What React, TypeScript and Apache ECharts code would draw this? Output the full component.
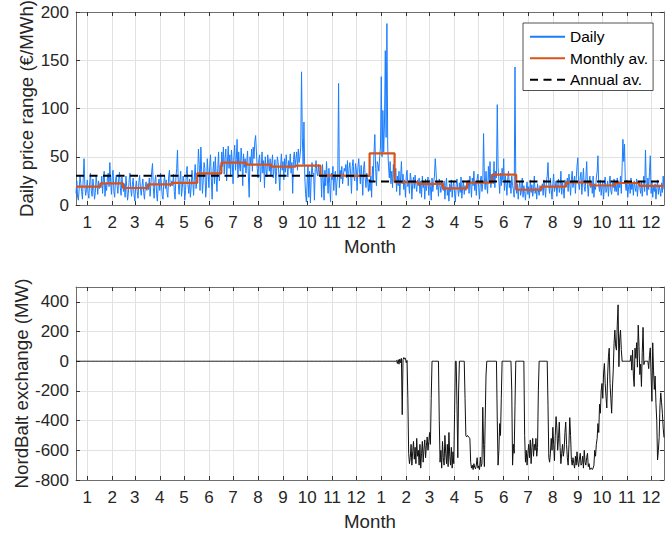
import React, { useEffect, useRef } from 'react';
import * as echarts from 'echarts';

const FONT = '"Liberation Sans", Arial, Helvetica, sans-serif';
const TEXT = '#262626';

const monthLabels = ['1', '2', '3', '4', '5', '6', '7', '8', '9', '10', '11', '12'];
const years = [2015, 2016];
const daysInMonth2015 = [31, 28, 31, 30, 31, 30, 31, 31, 30, 31, 30, 31];
const daysInMonth2016 = [31, 29, 31, 30, 31, 30, 31, 31, 30, 31, 30, 31];

// Daily price range (€/MWh), one row per month
const priceDaily2015 = [
  12, 25, 8, 5, 18, 30, 22, 14, 6, 28, 48, 20, 10, 16, 26, 12, 7, 24, 33, 15, 9, 27, 18, 6, 13, 30, 22, 11, 25, 17, 20,
  18, 30, 12, 26, 35, 9, 22, 15, 28, 33, 19, 44, 24, 11, 30, 36, 14, 8, 25, 31, 20, 12, 27, 34, 18, 10, 29, 21,
  14, 22, 8, 30, 19, 5, 12, 26, 33, 16, 9, 21, 28, 11, 4, 18, 25, 14, 7, 23, 31, 17, 10, 20, 27, 13, 6, 19, 24, 15, 22,
  16, 28, 9, 22, 35, 43, 18, 7, 25, 31, 12, 4, 20, 27, 15, 33, 22, 10, 6, 24, 30, 17, 26, 13, 8, 29, 36, 19, 21, 25,
  20, 32, 14, 6, 28, 38, 57, 22, 11, 26, 35, 9, 18, 30, 24, 5, 15, 33, 40, 21, 12, 27, 8, 19, 36, 25, 10, 29, 42, 17, 23,
  30, 58, 42, 15, 60, 35, 12, 26, 44, 38, 8, 20, 48, 33, 18, 40, 52, 27, 6, 35, 45, 22, 50, 30, 14, 38, 55, 25, 41, 36,
  55, 40, 60, 32, 48, 58, 25, 45, 61, 38, 52, 30, 57, 44, 22, 50, 62, 36, 47, 68, 28, 55, 41, 35, 59, 46, 20, 53, 39, 48, 33,
  45, 56, 30, 8, 50, 42, 58, 35, 60, 48, 66, 72, 55, 38, 28, 47, 52, 24, 40, 55, 33, 46, 18, 50, 37, 29, 52, 44, 35, 48, 30,
  42, 52, 28, 38, 47, 22, 35, 50, 44, 30, 15, 40, 53, 36, 45, 26, 48, 34, 52, 41, 29, 46, 38, 53, 33, 44, 12, 47, 55, 40,
  48, 55, 36, 58, 44, 50, 60, 138, 70, 42, 86, 30, 12, 3, 25, 40, 8, 35, 2, 28, 44, 32, 33, 5, 38, 46, 34, 30, 42, 30, 35,
  30, 8, 42, 25, 5, 36, 20, 45, 28, 12, 38, 22, 3, 33, 26, 40, 15, 29, 35, 10, 24, 32, 126, 18, 36, 27, 40, 22, 31, 38,
  35, 42, 28, 46, 20, 38, 44, 32, 12, 40, 47, 30, 25, 43, 36, 15, 39, 48, 34, 22, 41, 30, 10, 37, 45, 28, 18, 33, 26, 14, 24,
];
const priceDaily2016 = [
  15, 30, 8, 40, 25, 55, 73, 38, 20, 45, 42, 35, 50, 60, 133, 50, 98, 55, 85, 160, 70, 188, 60, 40, 28, 45, 22, 35, 18, 42, 30,
  25, 38, 14, 30, 20, 35, 10, 28, 45, 22, 32, 16, 26, 8, 30, 36, 19, 24, 12, 33, 27, 6, 22, 29, 17, 31, 20, 14, 26,
  20, 28, 12, 25, 8, 30, 18, 24, 6, 27, 15, 22, 29, 10, 26, 19, 5, 28, 14, 23, 30, 48, 35, 16, 25, 9, 27, 20, 13, 24, 18,
  15, 25, 6, 20, 28, 10, 18, 4, 22, 14, 26, 8, 19, 24, 12, 3, 21, 27, 16, 9, 23, 13, 29, 7, 18, 25, 11, 20, 15, 22,
  18, 26, 12, 30, 22, 8, 28, 20, 35, 15, 24, 10, 27, 32, 18, 6, 25, 30, 14, 22, 74, 28, 16, 35, 20, 12, 40, 24, 45, 18, 28,
  30, 22, 45, 18, 35, 28, 104, 40, 25, 12, 33, 20, 38, 26, 48, 15, 30, 22, 10, 28, 35, 18, 25, 12, 30, 20, 16, 8, 143, 22,
  12, 22, 6, 18, 25, 10, 15, 28, 8, 20, 14, 5, 17, 24, 11, 19, 7, 26, 13, 21, 9, 16, 30, 12, 18, 6, 22, 15, 10, 20, 14,
  15, 22, 10, 26, 18, 8, 24, 30, 44, 20, 12, 28, 16, 6, 22, 32, 14, 19, 25, 9, 21, 27, 13, 18, 35, 11, 23, 17, 7, 26, 20,
  20, 28, 14, 32, 22, 10, 26, 35, 18, 24, 30, 12, 27, 40, 49, 22, 16, 29, 34, 11, 25, 38, 19, 14, 28, 45, 21, 9, 24, 30,
  18, 25, 12, 30, 8, 22, 16, 28, 35, 51, 20, 14, 26, 10, 19, 24, 6, 21, 29, 13, 17, 25, 9, 22, 30, 15, 11, 23, 18, 27, 14,
  20, 14, 28, 10, 24, 18, 30, 12, 40, 68, 45, 63, 22, 15, 26, 8, 19, 24, 12, 28, 16, 22, 10, 25, 18, 14, 27, 9, 20, 24,
  18, 12, 24, 9, 20, 30, 14, 57, 22, 10, 28, 16, 35, 51, 12, 25, 8, 19, 14, 22, 6, 17, 26, 11, 20, 15, 9, 23, 13, 30, 16,
];

const monthlyAvg2015 = [19, 22.5, 17.6, 21.4, 23, 32.8, 43.9, 41.8, 39.7, 40.7, 30.4, 30.2];
const monthlyAvg2016 = [53.6, 23.8, 21.8, 17.3, 23.1, 31.4, 15.8, 19, 23.5, 20.2, 22.8, 19.9];
const annualAvg = [30.4, 24.3];

// NordBalt exchange (MW), daily
const exchangeDaily2015 = [
  0, 0, 0, 0, 0, 0, 0, 0, 0, 0,
  0, 0, 0, 0, 0, 0, 0, 0, 0, 0,
  0, 0, 0, 0, 0, 0, 0, 0, 0, 0,
  0, 0, 0, 0, 0, 0, 0, 0, 0, 0,
  0, 0, 0, 0, 0, 0, 0, 0, 0, 0,
  0, 0, 0, 0, 0, 0, 0, 0, 0, 0,
  0, 0, 0, 0, 0, 0, 0, 0, 0, 0,
  0, 0, 0, 0, 0, 0, 0, 0, 0, 0,
  0, 0, 0, 0, 0, 0, 0, 0, 0, 0,
  0, 0, 0, 0, 0, 0, 0, 0, 0, 0,
  0, 0, 0, 0, 0, 0, 0, 0, 0, 0,
  0, 0, 0, 0, 0, 0, 0, 0, 0, 0,
  0, 0, 0, 0, 0, 0, 0, 0, 0, 0,
  0, 0, 0, 0, 0, 0, 0, 0, 0, 0,
  0, 0, 0, 0, 0, 0, 0, 0, 0, 0,
  0, 0, 0, 0, 0, 0, 0, 0, 0, 0,
  0, 0, 0, 0, 0, 0, 0, 0, 0, 0,
  0, 0, 0, 0, 0, 0, 0, 0, 0, 0,
  0, 0, 0, 0, 0, 0, 0, 0, 0, 0,
  0, 0, 0, 0, 0, 0, 0, 0, 0, 0,
  0, 0, 0, 0, 0, 0, 0, 0, 0, 0,
  0, 0, 0, 0, 0, 0, 0, 0, 0, 0,
  0, 0, 0, 0, 0, 0, 0, 0, 0, 0,
  0, 0, 0, 0, 0, 0, 0, 0, 0, 0,
  0, 0, 0, 0, 0, 0, 0, 0, 0, 0,
  0, 0, 0, 0, 0, 0, 0, 0, 0, 0,
  0, 0, 0, 0, 0, 0, 0, 0, 0, 0,
  0, 0, 0, 0, 0, 0, 0, 0, 0, 0,
  0, 0, 0, 0, 0, 0, 0, 0, 0, 0,
  0, 0, 0, 0, 0, 0, 0, 0, 0, 0,
  0, 0, 0, 0, 0, 0, 0, 0, 0, 0,
  0, 0, 0, 0, 0, 0, 0, 0, 0, 0,
  0, 0, 0, 0, 0, 0, 0, 0, 0, 0,
  0, 0, 0, 0, 0, 0, 0, 0, 0, 0,
  0, 0, 0, 0, 0, 0, 0, 0, 0, 0,
  0, 0, 0, 0, 0, 0, 0, 0, 0, 0,
  0, 0, 0, 0, 0,
];
const exchangeDaily2016 = [
  0, 0, 0, 0, 0, 0, 0, 0, 0, 0,
  0, 0, 0, 0, 0, 0, 0, 0, 0, 0,
  0, 0, 0, 0, 0, 0, 0, 0, 0, 0,
  0, 0, 0,
  5, -15, 10, -20, 15, -10, 20, -360,
  10, 25, 15, 20, -10, 5,
  -250, -620, -690,
  -650, -560, -700, -610, -540, -660, -580, -690, -520, -640,
  -600, -700, -560, -720, -620, -540, -680, -590, -530, -650,
  -570, -510, -600, -540, -480, -560,
  -250,
  0, 0, 0, 0, 0, 0, 0, 0, 0,
  -400,
  -680, -600, -720, -540, -650, -700, -500, -620, -690, -560,
  -710, -480, -640, -700, -580, -720, -610, -690,
  -350, 0, 0, -300, -650, -200,
  0, 0, 0, 0, 0, 0, 0,
  -250, -500,
  -510, -500, -505, -515, -520,
  -680,
  -720, -700, -730, -690, -715, -725, -700, -650, -720, -705, -730, -645, -710, -690,
  -310, -560, -710, -400, -100,
  0, 0, 0, 0, 0, 0, 0, 0, 0, 0, 0, 0, 0,
  -400, -700, -600, -420, -500, -250,
  0, 0, 0, 0, 0, 0, 0, 0, 0, 0, 0, 0,
  -200, -700, -560, -620, -300,
  0, 0, 0, 0, 0, 0, 0, 0, 0, 0, 0,
  -500,
  -680, -600, -700, -620, -560, -650, -530, -690, -580, -520, -640, -560, -600, -520, -640, -580,
  -200,
  0, 0, 0, 0, 0, 0, 0, 0, 0, 0, 0,
  -300, -650,
  -680, -620, -520, -600, -445, -560, -670, -500, -373, -450,
  -600, -520, -410, -580, -690, -620, -560, -640, -600, -480,
  -410, -560, -650, -700, -560, -380, -500, -660,
  -700, -650, -690, -720, -640, -700, -610, -680, -710, -660,
  -620, -700, -690, -640, -720, -600, -680, -700, -650, -620,
  -710, -690, -730, -720, -720, -730, -720,
  -700, -600, -640, -560, -520, -420, -480, -290, -350, -200,
  -150, -250, -80, -15, -150, -240, -315, -100, 30, 88,
  -150, -250, -350, -180, -60, 120, 210, 100, 75, 250,
  380, -37, 150, 210, 80, 0, 0, 0, 0, 0,
  0, 0, 0, 0, 0, 0, 40, -60, 75, -100,
  -170, 88, 20, 125, -40, 243, 100, -90, -20, -170,
  60, 228, -23, 0, 0, 0, 0, 0, -50, 40,
  90, -100, -270, 124, -60, -190, -100, -283, -400, -665,
  -600, -514, -300, -213, -280, -350, -450, -514,
];

export default function App() {
  const ref = useRef<HTMLDivElement>(null);

  useEffect(() => {
    if (!ref.current) return;
    const chart = echarts.init(ref.current, null, { renderer: 'svg' });

    const days: string[] = [];
    const midSet = new Set<number>();
    const monthlyDaily: number[] = [];
    const annualDaily: number[] = [];
    const dims = [daysInMonth2015, daysInMonth2016];
    const mAvg = [monthlyAvg2015, monthlyAvg2016];
    years.forEach((y, yi) => {
      dims[yi].forEach((n, m) => {
        for (let d = 1; d <= n; d++) {
          if (d === 15) midSet.add(days.length);
          days.push(`${y}-${m + 1}-${d}`);
          monthlyDaily.push(mAvg[yi][m]);
          annualDaily.push(annualAvg[yi]);
        }
      });
    });
    const priceDaily = [...priceDaily2015, ...priceDaily2016];
    const exchangeDaily = [...exchangeDaily2015, ...exchangeDaily2016];
    const tickFn = (index: number) => midSet.has(index);

    const boxLine = { show: true, onZero: false, lineStyle: { color: '#6e6e6e', width: 1 } };
    const tickStyle = { show: true, inside: true, length: 4, lineStyle: { color: '#333', width: 1 } };
    const gridLine = { show: true, lineStyle: { color: '#e2e2e2', width: 1 } };
    const labelStyle = { fontSize: 17, color: TEXT, fontFamily: FONT };

    const xBottom = (gridIndex: number) => ({
      type: 'category',
      gridIndex,
      position: 'bottom',
      data: days,
      boundaryGap: false,
      axisLine: boxLine,
      axisTick: { ...tickStyle, interval: tickFn },
      axisLabel: {
        ...labelStyle,
        margin: 9,
        interval: tickFn,
        formatter: (v: string) => monthLabels[Number(v.split('-')[1]) - 1],
      },
      splitLine: { ...gridLine, interval: tickFn },
      name: 'Month',
      nameLocation: 'middle',
      nameGap: 32,
      nameTextStyle: { fontSize: 18.7, color: TEXT, fontFamily: FONT },
    });
    const xTop = (gridIndex: number) => ({
      type: 'category',
      gridIndex,
      position: 'top',
      data: days,
      boundaryGap: false,
      axisLine: boxLine,
      axisTick: { ...tickStyle, interval: tickFn },
      axisLabel: { show: false },
      splitLine: { show: false },
    });
    const yLeft = (gridIndex: number, min: number, max: number, interval: number) => ({
      type: 'value',
      gridIndex,
      position: 'left',
      min,
      max,
      interval,
      axisLine: boxLine,
      axisTick: tickStyle,
      axisLabel: { ...labelStyle, margin: 7, showMaxLabel: max % interval === 0 },
      splitLine: gridLine,
    });
    const yRight = (gridIndex: number, min: number, max: number, interval: number) => ({
      type: 'value',
      gridIndex,
      position: 'right',
      min,
      max,
      interval,
      axisLine: boxLine,
      axisTick: tickStyle,
      axisLabel: { show: false },
      splitLine: { show: false },
    });

    const option: any = {
      animation: false,
      backgroundColor: '#fff',
      textStyle: { fontFamily: FONT },
      grid: [
        { left: 76, top: 12, width: 588, height: 193 },
        { left: 76, top: 287, width: 588, height: 193 },
      ],
      xAxis: [xBottom(0), xTop(0), xBottom(1), xTop(1)],
      yAxis: [
        yLeft(0, 0, 200, 50),
        yRight(0, 0, 200, 50),
        yLeft(1, -800, 500, 200),
        yRight(1, -800, 500, 200),
      ],
      legend: {
        data: ['Daily', 'Monthly av.', 'Annual av.'],
        orient: 'vertical',
        left: 523,
        top: 23,
        itemWidth: 35,
        itemHeight: 14,
        itemGap: 0,
        padding: [3, 5, 0, 6],
        backgroundColor: '#fff',
        borderColor: '#262626',
        borderWidth: 0.8,
        selectedMode: false,
        itemStyle: { color: 'rgba(0,0,0,0)', borderWidth: 0, opacity: 0 },
        textStyle: { fontSize: 15.5, color: '#000', fontFamily: FONT, lineHeight: 21.5 },
      },
      graphic: [
        {
          type: 'text',
          x: 26,
          y: 108.5,
          rotation: Math.PI / 2,
          style: {
            text: 'Daily price range (€/MWh)',
            fontSize: 18.7,
            fontFamily: FONT,
            fill: TEXT,
            align: 'center',
            verticalAlign: 'middle',
          },
        },
        {
          type: 'text',
          x: 21,
          y: 383.5,
          rotation: Math.PI / 2,
          style: {
            text: 'NordBalt exchange (MW)',
            fontSize: 18.7,
            fontFamily: FONT,
            fill: TEXT,
            align: 'center',
            verticalAlign: 'middle',
          },
        },
      ],
      series: [
        {
          name: 'Daily',
          type: 'line',
          xAxisIndex: 0,
          yAxisIndex: 0,
          data: priceDaily,
          symbol: 'none',
          lineStyle: { color: '#1a7dff', width: 1 },
          itemStyle: { color: '#1a7dff' },
        },
        {
          name: 'Monthly av.',
          type: 'line',
          xAxisIndex: 0,
          yAxisIndex: 0,
          step: 'middle',
          data: monthlyDaily,
          symbol: 'none',
          lineStyle: { color: '#d95319', width: 2.2 },
          itemStyle: { color: '#d95319' },
        },
        {
          name: 'Annual av.',
          type: 'line',
          xAxisIndex: 0,
          yAxisIndex: 0,
          step: 'middle',
          data: annualDaily,
          symbol: 'none',
          lineStyle: { color: '#000', width: 2, type: [8, 5.5] },
          itemStyle: { color: '#000' },
        },
        {
          name: 'NordBalt',
          type: 'line',
          xAxisIndex: 2,
          yAxisIndex: 2,
          data: exchangeDaily,
          symbol: 'none',
          lineStyle: { color: '#111', width: 1 },
          itemStyle: { color: '#111' },
        },
      ],
    };

    chart.setOption(option);
    return () => chart.dispose();
  }, []);

  return (
    <div
      ref={ref}
      style={{ position: 'fixed', left: 0, top: 0, width: 665, height: 533, background: '#fff' }}
    />
  );
}
